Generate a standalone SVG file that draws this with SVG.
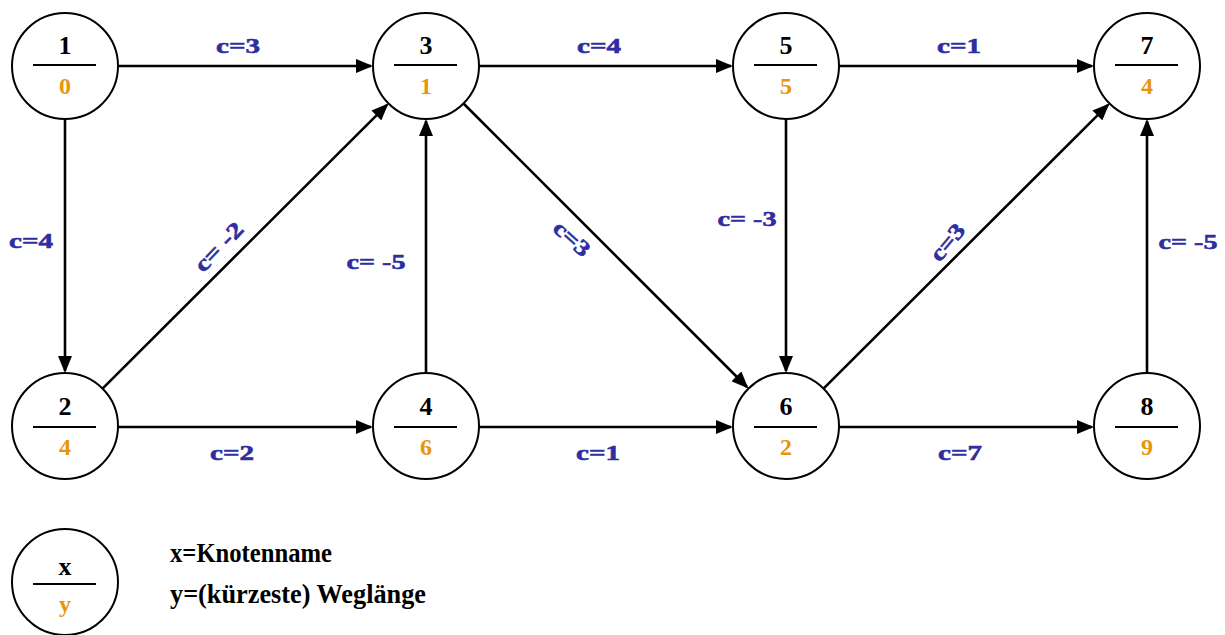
<svg xmlns="http://www.w3.org/2000/svg" width="1225" height="635" viewBox="0 0 1225 635">
  <defs>
    <marker id="arrow" markerUnits="userSpaceOnUse" markerWidth="18" markerHeight="14" viewBox="0 0 18 14" refX="15" refY="7" orient="auto">
      <path d="M0,0 L17,7 L0,14 Z" fill="#000"/>
    </marker>
  </defs>
  <style>
    .node circle { fill: #fff; stroke: #000; stroke-width: 2; }
    .node line { stroke: #000; stroke-width: 2; }
    .name { font-family: "Liberation Serif", "Times New Roman", serif; font-weight: bold; font-size: 26px; fill: #000; text-anchor: middle; }
    .dist { font-family: "Liberation Serif", "Times New Roman", serif; font-weight: bold; font-size: 24px; fill: #e8950c; text-anchor: middle; }
    .edge { stroke: #000; stroke-width: 2.6; fill: none; marker-end: url(#arrow); }
    .cost { font-family: "Liberation Serif", "Times New Roman", serif; font-weight: bold; font-size: 22px; fill: #2e2ea0; stroke: #2e2ea0; stroke-width: 0.6; text-anchor: middle; }
    .legend { font-family: "Liberation Serif", "Times New Roman", serif; font-weight: bold; font-size: 27px; fill: #000; }
  </style>

  <rect width="1225" height="635" fill="#fff"/>

  <!-- connectors -->
  <g id="edges">
    <line class="edge" x1="118" y1="66" x2="371" y2="66"/>
    <line class="edge" x1="479" y1="66" x2="731" y2="66"/>
    <line class="edge" x1="839" y1="66" x2="1092" y2="66"/>
    <line class="edge" x1="65" y1="119" x2="65" y2="371"/>
    <line class="edge" x1="102.5" y1="388.6" x2="387" y2="104.8"/>
    <line class="edge" x1="426" y1="373" x2="426" y2="121"/>
    <line class="edge" x1="463.5" y1="103.5" x2="747" y2="387"/>
    <line class="edge" x1="786" y1="119" x2="786" y2="371"/>
    <line class="edge" x1="823.5" y1="388.6" x2="1108" y2="104.8"/>
    <line class="edge" x1="1147" y1="373" x2="1147" y2="121"/>
    <line class="edge" x1="118" y1="427" x2="371" y2="427"/>
    <line class="edge" x1="479" y1="427" x2="731" y2="427"/>
    <line class="edge" x1="839" y1="427" x2="1092" y2="427"/>

    <text class="cost" x="238" y="53" textLength="44" lengthAdjust="spacingAndGlyphs">c=3</text>
    <text class="cost" x="599" y="53" textLength="44" lengthAdjust="spacingAndGlyphs">c=4</text>
    <text class="cost" x="959" y="53" textLength="44" lengthAdjust="spacingAndGlyphs">c=1</text>
    <text class="cost" x="31" y="248" textLength="44" lengthAdjust="spacingAndGlyphs">c=4</text>
    <text class="cost" transform="translate(224,252) rotate(-46)" x="0" y="0" textLength="60" lengthAdjust="spacingAndGlyphs">c= -2</text>
    <text class="cost" x="376" y="269" textLength="59" lengthAdjust="spacingAndGlyphs">c= -5</text>
    <text class="cost" transform="translate(567,244) rotate(42)" x="0" y="0" textLength="42" lengthAdjust="spacingAndGlyphs">c=3</text>
    <text class="cost" x="747" y="226" textLength="59" lengthAdjust="spacingAndGlyphs">c= -3</text>
    <text class="cost" transform="translate(953,247) rotate(-50)" x="0" y="0" textLength="42" lengthAdjust="spacingAndGlyphs">c=3</text>
    <text class="cost" x="1188" y="249" textLength="59" lengthAdjust="spacingAndGlyphs">c= -5</text>
    <text class="cost" x="232" y="460" textLength="44" lengthAdjust="spacingAndGlyphs">c=2</text>
    <text class="cost" x="598" y="460" textLength="44" lengthAdjust="spacingAndGlyphs">c=1</text>
    <text class="cost" x="960" y="460" textLength="44" lengthAdjust="spacingAndGlyphs">c=7</text>
  </g>

  <!-- nodes: name above the bar, shortest path length below -->
  <g id="node1" class="node">
    <circle cx="65" cy="66" r="53"/>
    <line x1="33" y1="65" x2="96" y2="65"/>
    <text class="name" x="65" y="54">1</text>
    <text class="dist" x="65" y="94">0</text>
  </g>
  <g id="node3" class="node">
    <circle cx="426" cy="66" r="53"/>
    <line x1="394" y1="65" x2="457" y2="65"/>
    <text class="name" x="426" y="54">3</text>
    <text class="dist" x="426" y="94">1</text>
  </g>
  <g id="node5" class="node">
    <circle cx="786" cy="66" r="53"/>
    <line x1="754" y1="65" x2="817" y2="65"/>
    <text class="name" x="786" y="54">5</text>
    <text class="dist" x="786" y="94">5</text>
  </g>
  <g id="node7" class="node">
    <circle cx="1147" cy="66" r="53"/>
    <line x1="1115" y1="65" x2="1178" y2="65"/>
    <text class="name" x="1147" y="54">7</text>
    <text class="dist" x="1147" y="94">4</text>
  </g>
  <g id="node2" class="node">
    <circle cx="65" cy="426" r="53"/>
    <line x1="33" y1="427" x2="96" y2="427"/>
    <text class="name" x="65" y="415">2</text>
    <text class="dist" x="65" y="455">4</text>
  </g>
  <g id="node4" class="node">
    <circle cx="426" cy="426" r="53"/>
    <line x1="394" y1="427" x2="457" y2="427"/>
    <text class="name" x="426" y="415">4</text>
    <text class="dist" x="426" y="455">6</text>
  </g>
  <g id="node6" class="node">
    <circle cx="786" cy="426" r="53"/>
    <line x1="754" y1="427" x2="817" y2="427"/>
    <text class="name" x="786" y="415">6</text>
    <text class="dist" x="786" y="455">2</text>
  </g>
  <g id="node8" class="node">
    <circle cx="1147" cy="426" r="53"/>
    <line x1="1115" y1="427" x2="1178" y2="427"/>
    <text class="name" x="1147" y="415">8</text>
    <text class="dist" x="1147" y="455">9</text>
  </g>

  <!-- legend -->
  <g id="legend" class="node">
    <circle cx="65" cy="582" r="53"/>
    <line x1="33" y1="584" x2="96" y2="584"/>
    <text class="name" x="65" y="575">x</text>
    <text class="dist" x="65" y="612">y</text>
    <text class="legend" x="170" y="562" textLength="162" lengthAdjust="spacingAndGlyphs">x=Knotenname</text>
    <text class="legend" x="170" y="603" textLength="256" lengthAdjust="spacingAndGlyphs">y=(kürzeste) Weglänge</text>
  </g>
</svg>
